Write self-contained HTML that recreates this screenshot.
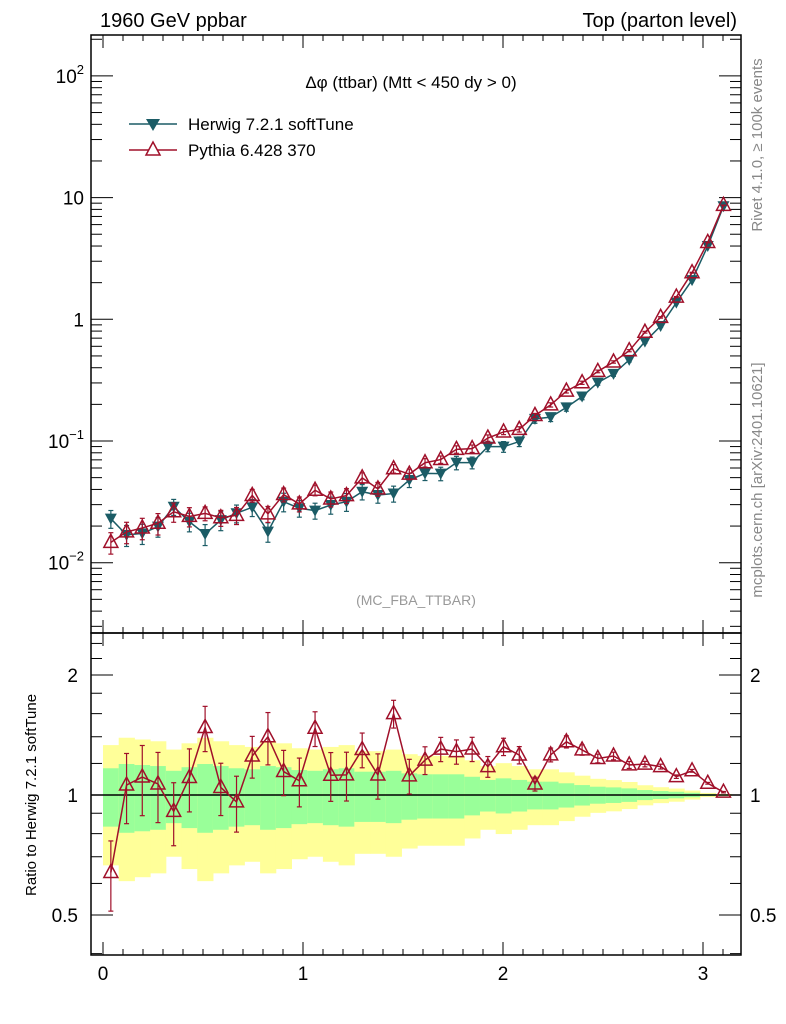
<!DOCTYPE html>
<html><head><meta charset="utf-8"><style>
body{margin:0;background:#fff;}
svg{display:block;font-family:"Liberation Sans",sans-serif;}
</style></head><body>
<svg id="c" width="786" height="1024" viewBox="0 0 786 1024" xmlns="http://www.w3.org/2000/svg">
<g id="bands"></g>
<g id="frames">
<rect x="91" y="35" width="650" height="598" fill="none" stroke="#000" stroke-width="1.5"/>
<rect x="91" y="633" width="650" height="322" fill="none" stroke="#000" stroke-width="1.5"/>
</g>
<g id="ticks"></g>
<g id="series"></g>
<text x="100" y="27" font-size="20">1960 GeV ppbar</text>
<text x="737" y="27" font-size="20" text-anchor="end">Top (parton level)</text>
<text x="411" y="88" font-size="17" text-anchor="middle">Δφ (ttbar) (Mtt &lt; 450 dy &gt; 0)</text>
<g>
<g>
<line x1="129" y1="124" x2="177" y2="124" stroke="#1b5c66" stroke-width="1.5"/>
<path d="M146,119 L160,119 L153,131 Z" fill="#1b5c66"/>
<text x="188" y="130" font-size="17">Herwig 7.2.1 softTune</text></g>
<g>
<line x1="129" y1="150" x2="177" y2="150" stroke="#a0102a" stroke-width="1.5"/>
<path d="M153,142 L160,155 L146,155 Z" fill="#fff" stroke="#a0102a" stroke-width="1.5"/>
<text x="188" y="156" font-size="17">Pythia 6.428 370</text></g>
</g>
<text x="416" y="605" font-size="14" fill="#999" text-anchor="middle">(MC_FBA_TTBAR)</text>
<text transform="translate(762,145) rotate(-90)" font-size="15" fill="#888" text-anchor="middle">Rivet 4.1.0, ≥ 100k events</text>
<text transform="translate(762,480) rotate(-90)" font-size="15" fill="#888" text-anchor="middle">mcplots.cern.ch [arXiv:2401.10621]</text>
<text transform="translate(36,795) rotate(-90)" font-size="15" text-anchor="middle">Ratio to Herwig 7.2.1 softTune</text>
</svg>
<script>
const herwig=[0.023,0.0169,0.0174,0.0198,0.0288,0.0217,0.0172,0.0224,0.0255,0.0285,0.018,0.0317,0.028,0.0268,0.0298,0.0317,0.0383,0.036,0.037,0.0478,0.0542,0.054,0.0664,0.0664,0.0898,0.0898,0.099,0.152,0.157,0.189,0.232,0.302,0.356,0.464,0.655,0.88,1.37,2.10,4.0,8.5];
const pythia=[0.0147,0.0179,0.0193,0.0211,0.0262,0.024,0.0254,0.0234,0.0245,0.0357,0.0252,0.0363,0.0304,0.0394,0.0334,0.0356,0.0498,0.0404,0.0592,0.0534,0.0663,0.0704,0.0853,0.0866,0.1058,0.1187,0.1247,0.162,0.198,0.257,0.301,0.373,0.446,0.552,0.783,1.037,1.523,2.415,4.28,8.64];
const herwigErr=[0.167,0.196,0.189,0.182,0.15,0.174,0.196,0.182,0.167,0.16,0.182,0.174,0.155,0.15,0.16,0.167,0.144,0.144,0.15,0.133,0.127,0.127,0.127,0.111,0.091,0.101,0.091,0.08,0.08,0.07,0.059,0.049,0.045,0.039,0.029,0.023,0.019,0.013,0.006,0.003];
const pythiaErr=[0.2,0.2,0.2,0.2,0.18,0.18,0.13,0.15,0.16,0.12,0.15,0.13,0.14,0.1,0.14,0.14,0.1,0.13,0.08,0.1,0.08,0.07,0.07,0.07,0.06,0.05,0.05,0.04,0.04,0.035,0.03,0.025,0.022,0.02,0.016,0.014,0.01,0.008,0.005,0.004];
const nb=40, bw=Math.PI/40;
const NS='http://www.w3.org/2000/svg';
function X(v){return 103+200*v;}
function Y(v){return 562.7-121.7*(Math.log10(v)+2);}
function R(v){return 795-120*Math.log2(v);}
function mk(t,a,p){const e=document.createElementNS(NS,t);for(const k in a)e.setAttribute(k,a[k]);p.appendChild(e);return e;}
const bands=document.getElementById('bands'),ticks=document.getElementById('ticks'),ser=document.getElementById('series');
// bands
for(let i=0;i<nb;i++){const x0=X(i*bw),x1=X((i+1)*bw),e=herwigErr[i];
 const yl=mk('rect',{x:x0,y:R(1+2*e),width:x1-x0+0.5,height:R(Math.max(1-2*e,0.4))-R(1+2*e),fill:'#ffff99'},bands);
 
 
 const gr=mk('rect',{x:x0,y:R(1+e),width:x1-x0+0.5,height:R(1-e)-R(1+e),fill:'#99ff99'},bands);
 
 }
mk('line',{x1:91,y1:795,x2:741,y2:795,stroke:'#000','stroke-width':1.5},bands);
// ticks
function tk(x1,y1,x2,y2){mk('line',{x1,y1,x2,y2,stroke:'#000','stroke-width':1},ticks);}
for(let d=-3;d<=2;d++)for(let m=1;m<10;m++){const v=m*Math.pow(10,d),y=Y(v);if(y<35||y>633)continue;const L=m==1?22:11;tk(91,y,91+L,y);tk(741,y,741-L,y);}
[0.4,0.5,0.6,0.7,0.8,0.9,1,2].forEach(v=>{const y=R(v);const L=(v==1||v==2||v==0.5)?22:11;tk(91,y,91+L,y);tk(741,y,741-L,y);});
[1.2,1.4,1.6,1.8,2.2,2.4].forEach(v=>{const y=R(v);tk(91,y,102,y);tk(741,y,730,y);});
for(let k=0;k<=31;k++){const v=k/10,x=X(v);if(x>741)break;const L=k%10==0?13:6;tk(x,35,x,35+L);tk(x,633,x,633-L);tk(x,633,x,633+L);tk(x,955,x,955-L);}
function lab(t,x,y,a,sz){const e=mk('text',{x,y,'font-size':sz||19,'text-anchor':a||'middle'},ticks);e.textContent=t;return e;}
['0','1','2','3'].forEach((t,i)=>{const e=lab(t,X(i),980);});
const ml=mk('text',{x:84,y:Y(100)+7,'font-size':19,'text-anchor':'end'},ticks);ml.innerHTML='10<tspan font-size="13" dy="-9">2</tspan>';
lab('10',84,Y(10)+7,'end');lab('1',84,Y(1)+7,'end');
const m1=mk('text',{x:84,y:Y(0.1)+7,'font-size':19,'text-anchor':'end'},ticks);m1.innerHTML='10<tspan font-size="13" dy="-9">−1</tspan>';
const m2=mk('text',{x:84,y:Y(0.01)+7,'font-size':19,'text-anchor':'end'},ticks);m2.innerHTML='10<tspan font-size="13" dy="-9">−2</tspan>';
lab('2',78,R(2)+7,'end');lab('1',78,R(1)+7,'end');lab('0.5',78,R(0.5)+7,'end');
lab('2',750,R(2)+7,'start');lab('1',750,R(1)+7,'start');lab('0.5',750,R(0.5)+7,'start');
// series
function cx(i){return X((i+0.5)*bw);}
function drawSeries(vals,errs,col,tri,yf,name){
 const g=mk('g',{},ser);
 
 
 mk('polyline',{points:vals.map((v,i)=>cx(i)+','+yf(v)).join(' '),fill:'none',stroke:col,'stroke-width':1.5},g);
 vals.forEach((v,i)=>{const x=cx(i),y=yf(v),e=errs[i];const y1=yf(v*(1+e)),y2=yf(Math.max(v*(1-e),1e-9));
  mk('line',{x1:x,y1:y1,x2:x,y2:y2,stroke:col,'stroke-width':1.2},g);
  mk('line',{x1:x-2.5,y1:y1,x2:x+2.5,y2:y1,stroke:col,'stroke-width':1.2},g);
  mk('line',{x1:x-2.5,y1:y2,x2:x+2.5,y2:y2,stroke:col,'stroke-width':1.2},g);
  let p;
  if(tri=='down')p=mk('path',{d:`M${x-6},${y-5} L${x+6},${y-5} L${x},${y+6} Z`,fill:col},g);
  else p=mk('path',{d:`M${x},${y-8} L${x+7},${y+5} L${x-7},${y+5} Z`,fill:'none',stroke:col,'stroke-width':1.5},g);
  
  });
}
drawSeries(herwig,herwigErr,'#1b5c66','down',Y,'herwig-series');
drawSeries(pythia,pythiaErr,'#a0102a','up',Y,'pythia-series');
const ratio=pythia.map((v,i)=>v/herwig[i]);
drawSeries(ratio,pythiaErr,'#a0102a','up',R,'pythia-ratio-series');
</script>
</body></html>
